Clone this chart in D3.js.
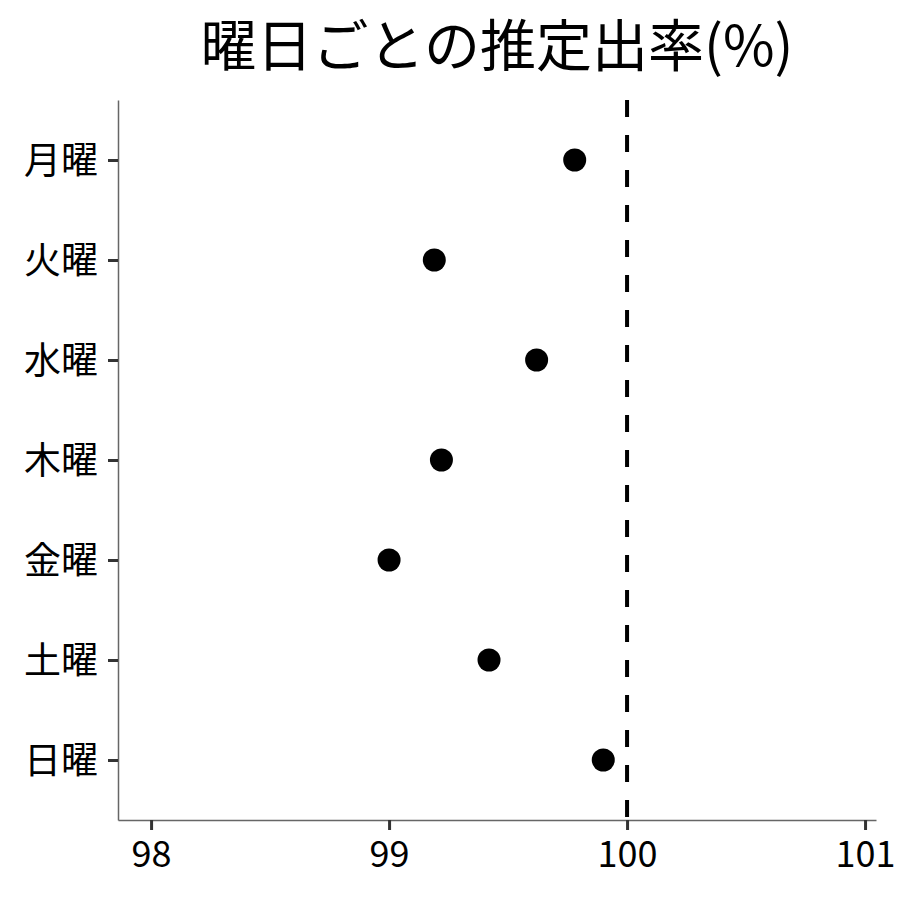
<!DOCTYPE html>
<html>
<head>
<meta charset="utf-8">
<script src="https://cdn.jsdelivr.net/npm/d3@7"></script>
<style>
  body { margin: 0; background: #fff; }
  svg { font-family: "Noto Sans CJK JP", "Noto Sans", sans-serif; }
</style>
</head>
<body>
<svg id="chart" width="900" height="900"></svg>
<script>
// DATA
const days = ["月曜", "火曜", "水曜", "木曜", "金曜", "土曜", "日曜"];
const rates = [99.78, 99.19, 99.62, 99.22, 99.0, 99.42, 99.9];
const xTicks = [98, 99, 100, 101];
const refValue = 100;
const title = "曜日ごとの推定出率(%)";

// CANVAS SETUP
const canvas = d3.select("#chart");
let margin = { top: 100, right: 24, bottom: 80, left: 118 },
  width = canvas.attr("width") - margin.left - margin.right,
  height = canvas.attr("height") - margin.top - margin.bottom;

const g = canvas
  .append("g")
  .attr("transform", `translate(${margin.left},${margin.top})`);

const data = days.map((d, i) => ({ day: d, rate: rates[i] }));

// SCALES
const xScale = d3.scaleLinear().domain([97.861, 101.046]).range([0, width]);

const yScale = d3
  .scalePoint()
  .domain(days)
  .range([0, height])
  .padding(0.6);

// AXES
const xAxis = g
  .append("g")
  .attr("transform", `translate(0,${height})`)
  .call(
    d3
      .axisBottom(xScale)
      .tickValues(xTicks)
      .tickFormat(d3.format("d"))
      .tickSizeInner(10)
      .tickSizeOuter(0)
      .tickPadding(8)
  );

const yAxis = g
  .append("g")
  .call(d3.axisLeft(yScale).tickSizeInner(10).tickSizeOuter(0).tickPadding(10));

[xAxis, yAxis].forEach((ax) => {
  ax.select(".domain").attr("stroke", "#666").attr("stroke-width", 1.5);
  ax.selectAll(".tick line").attr("stroke", "#333").attr("stroke-width", 3);
  ax.selectAll(".tick text")
    .attr("fill", "#000")
    .style("font-size", "36px")
    .style("font-family", '"Noto Sans CJK JP", sans-serif');
});
xAxis.selectAll(".tick text").attr("dy", "0.8em");
yAxis.selectAll(".tick text").attr("dy", "0.36em").style("font-size", "37px");

// REFERENCE LINE
g.append("line")
  .attr("x1", xScale(refValue))
  .attr("x2", xScale(refValue))
  .attr("y1", 0)
  .attr("y2", height)
  .attr("stroke", "#000")
  .attr("stroke-width", 4)
  .attr("stroke-dasharray", "17,18");

// POINTS
g.selectAll("circle")
  .data(data)
  .join("circle")
  .attr("cx", (d) => xScale(d.rate))
  .attr("cy", (d) => yScale(d.day))
  .attr("r", 11.5)
  .attr("fill", "#000");

// TITLE
canvas
  .append("text")
  .attr("x", margin.left + width / 2)
  .attr("y", 66)
  .attr("text-anchor", "middle")
  .style("font-size", "56px")
  .attr("fill", "#000")
  .text(title);
</script>
</body>
</html>
